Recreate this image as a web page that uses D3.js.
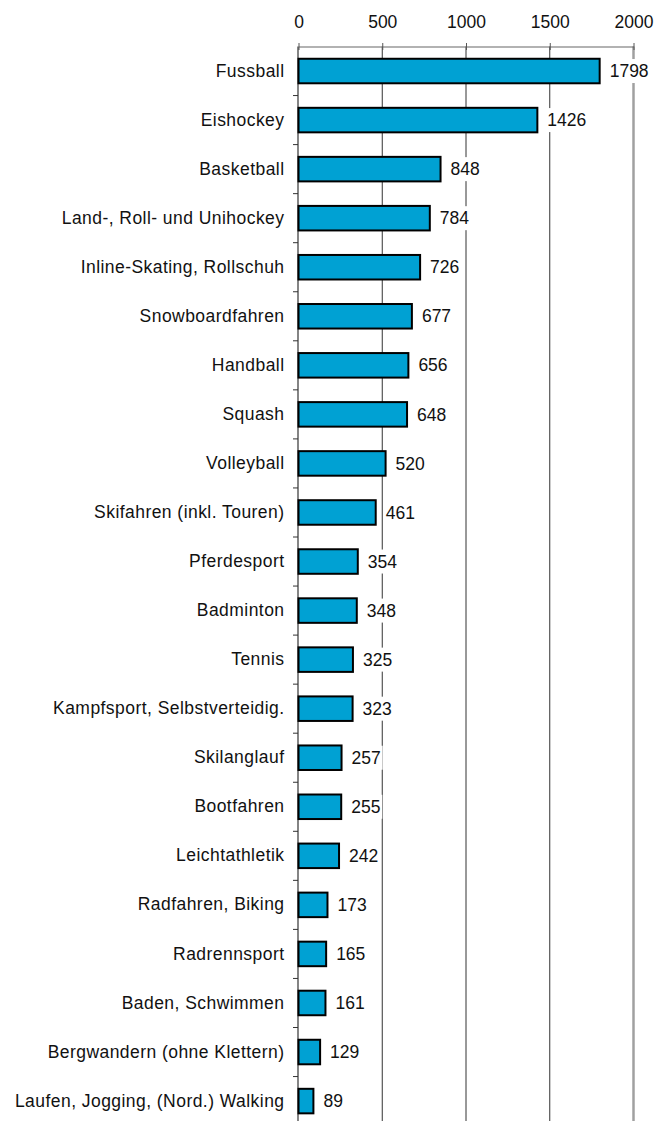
<!DOCTYPE html>
<html><head><meta charset="utf-8">
<script src="https://cdn.jsdelivr.net/npm/d3@7"></script>
<style>body{margin:0;background:#fff}svg{display:block;font-family:"Liberation Sans",Arial,sans-serif}</style>
</head><body><svg id="c" width="664" height="1121"></svg>
<script>
const categories = ["Fussball","Eishockey","Basketball","Land-, Roll- und Unihockey","Inline-Skating, Rollschuh","Snowboardfahren","Handball","Squash","Volleyball","Skifahren (inkl. Touren)","Pferdesport","Badminton","Tennis","Kampfsport, Selbstverteidig.","Skilanglauf","Bootfahren","Leichtathletik","Radfahren, Biking","Radrennsport","Baden, Schwimmen","Bergwandern (ohne Klettern)","Laufen, Jogging, (Nord.) Walking"];
const values = [1798,1426,848,784,726,677,656,648,520,461,354,348,325,323,257,255,242,173,165,161,129,89];
const tickValues = [0,500,1000,1500,2000];

const FS = 17.5;
const svg = d3.select("#c");
const x = d3.scaleLinear().domain([0,2000]).range([298.5,633.5]);
const y = d3.scaleBand().domain(categories).range([46.5,46.5+22*49.05]).paddingInner(0.5).paddingOuter(0.25);
const step = y.step();

// gridlines
svg.append("g").selectAll("line").data(tickValues.filter(d=>d>0)).join("line")
  .attr("x1",d=>x(d)).attr("x2",d=>x(d)).attr("y1",46.5).attr("y2",1121)
  .attr("stroke",d=>d===2000?"#a0a0a0":"#333").attr("stroke-width",d=>d===2000?2.5:1);

// top axis
const xa = svg.append("g").attr("transform","translate(0,46.5)")
  .call(d3.axisTop(x).tickValues(tickValues).tickFormat(d3.format("d")).tickSize(3).tickPadding(15.5).tickSizeOuter(0));
xa.select(".domain").attr("stroke","#666").attr("stroke-width",1.2);
xa.selectAll(".tick line").attr("y2",3.5).attr("y1",-3.5).attr("stroke","#555");
xa.selectAll("text").attr("font-size",FS).attr("fill","#111").attr("font-family","Liberation Sans, Arial, sans-serif");

// left axis labels
const ya = svg.append("g").attr("transform","translate(298,0)")
  .call(d3.axisLeft(y).tickSize(0).tickPadding(13.5));
ya.select(".domain").remove();
ya.selectAll("text").attr("font-size",FS).attr("fill","#111").attr("letter-spacing","0.45px")
  .attr("font-family","Liberation Sans, Arial, sans-serif");
svg.append("line").attr("x1",298).attr("x2",298).attr("y1",46.5).attr("y2",1121).attr("stroke","#333").attr("stroke-width",1.2);
// category boundary ticks
svg.append("g").selectAll("line").data(categories.slice(1)).join("line")
  .attr("x1",293).attr("x2",298)
  .attr("y1",d=>y(d)-(step-y.bandwidth())/2).attr("y2",d=>y(d)-(step-y.bandwidth())/2)
  .attr("stroke","#333");

// bars
svg.append("g").selectAll("rect").data(categories).join("rect")
  .attr("x",x(0)).attr("y",d=>y(d))
  .attr("width",(d,i)=>x(values[i])-x(0)).attr("height",y.bandwidth())
  .attr("fill","#00a1d3").attr("stroke","#000").attr("stroke-width",2);

// value labels
const lg = svg.append("g").selectAll("g").data(categories).join("g")
  .attr("transform",(d,i)=>`translate(${x(values[i])+8},${y(d)+y.bandwidth()/2})`);
lg.append("rect").attr("x",0).attr("y",-12).attr("height",24)
  .attr("width",(d,i)=>String(values[i]).length*9.7+4).attr("fill","#fff");
lg.append("text").attr("x",2).attr("dy","0.35em").attr("font-size",FS).attr("fill","#111")
  .text((d,i)=>values[i]);
</script></body></html>
